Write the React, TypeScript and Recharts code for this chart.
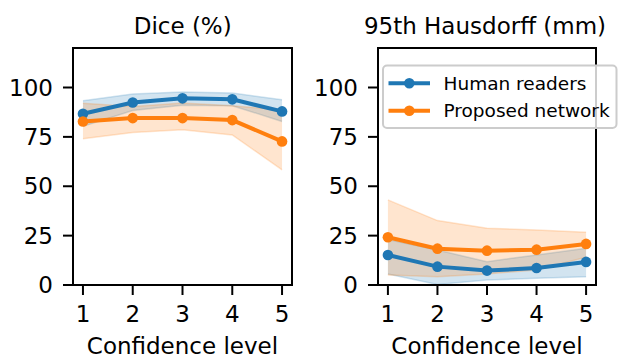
import React from 'react';
import { ComposedChart, Line, Area, XAxis, YAxis, ReferenceArea } from 'recharts';

const levels = [1, 2, 3, 4, 5];
const yTicks = [0, 25, 50, 75, 100];

const diceHumanMean = [86.7, 92.4, 94.5, 94.0, 87.9];
const diceHumanLow = [80.3, 88.3, 91.0, 90.8, 82.8];
const diceHumanHigh = [93.3, 96.7, 97.7, 97.2, 93.8];
const diceNetMean = [82.8, 84.5, 84.5, 83.5, 72.7];
const diceNetLow = [74.0, 77.2, 78.6, 76.0, 58.3];
const diceNetHigh = [92.0, 90.4, 92.1, 90.8, 88.7];

const hdHumanMean = [15.2, 9.3, 7.3, 8.6, 11.7];
const hdHumanLow = [5.6, 0.3, 2.5, 3.4, 4.2];
const hdHumanHigh = [23.0, 17.7, 11.8, 15.2, 18.6];
const hdNetMean = [24.2, 18.4, 17.4, 17.9, 20.8];
const hdNetLow = [5.1, 4.2, 5.6, 7.6, 14.0];
const hdNetHigh = [43.1, 32.6, 28.7, 27.9, 26.7];

const BLUE = '#1f77b4';
const ORANGE = '#ff7f0e';
const FONT = '"DejaVu Sans", sans-serif';

const build = (hm: number[], hl: number[], hh: number[], nm: number[], nl: number[], nh: number[]) =>
  levels.map((x, i) => ({
    x,
    hm: hm[i],
    hb: [hl[i], hh[i]],
    nm: nm[i],
    nb: [nl[i], nh[i]],
  }));

const diceData = build(diceHumanMean, diceHumanLow, diceHumanHigh, diceNetMean, diceNetLow, diceNetHigh);
const hdData = build(hdHumanMean, hdHumanLow, hdHumanHigh, hdNetMean, hdNetLow, hdNetHigh);

function Panel({ data, width, yWidth, right }: { data: any[]; width: number; yWidth: number; right: number }) {
  return (
    <ComposedChart width={width} height={359} data={data} margin={{ top: 48, right, left: 0, bottom: 0 }}>
      <XAxis
        type="number"
        dataKey="x"
        domain={[0.8, 5.2]}
        ticks={levels}
        height={74}
        tickSize={10}
        tickMargin={11}
        axisLine={{ stroke: '#000', strokeWidth: 2 }}
        tickLine={{ stroke: '#000', strokeWidth: 2 }}
        tick={{ fill: '#000', fontSize: 23, fontFamily: FONT }}
        label={{ value: 'Confidence level', position: 'insideBottom', offset: 5, fill: '#000', fontSize: 23, fontFamily: FONT }}
      />
      <YAxis
        type="number"
        domain={[0, 120]}
        ticks={yTicks}
        width={yWidth}
        tickSize={10}
        tickMargin={10}
        axisLine={{ stroke: '#000', strokeWidth: 2 }}
        tickLine={{ stroke: '#000', strokeWidth: 2 }}
        tick={{ fill: '#000', fontSize: 23, fontFamily: FONT }}
      />
      <Area type="linear" dataKey="hb" fill={BLUE} fillOpacity={0.2} stroke={BLUE} strokeOpacity={0.2} strokeWidth={1.5} isAnimationActive={false} dot={false} activeDot={false} />
      <Area type="linear" dataKey="nb" fill={ORANGE} fillOpacity={0.2} stroke={ORANGE} strokeOpacity={0.2} strokeWidth={1.5} isAnimationActive={false} dot={false} activeDot={false} />
      <Line type="linear" dataKey="hm" stroke={BLUE} strokeWidth={4} isAnimationActive={false} dot={{ r: 5.3, fill: BLUE, stroke: BLUE, strokeWidth: 0 }} activeDot={false} />
      <Line type="linear" dataKey="nm" stroke={ORANGE} strokeWidth={4} isAnimationActive={false} dot={{ r: 5.3, fill: ORANGE, stroke: ORANGE, strokeWidth: 0 }} activeDot={false} />
      <ReferenceArea x1={0.8} x2={5.2} y1={0} y2={120} fill="none" fillOpacity={0} stroke="#000" strokeWidth={2} ifOverflow="visible" />
    </ComposedChart>
  );
}

export default function App() {
  return (
    <div style={{ position: 'absolute', left: 0, top: 0, width: 618, height: 359, background: '#fff', fontFamily: FONT }}>
      <div style={{ position: 'absolute', left: 0, top: 0 }}>
        <Panel data={diceData} width={310} yWidth={73} right={18} />
      </div>
      <div style={{ position: 'absolute', left: 310, top: 0 }}>
        <Panel data={hdData} width={308} yWidth={68} right={22} />
      </div>
      <svg width={618} height={359} style={{ position: 'absolute', left: 0, top: 0, pointerEvents: 'none' }}>
        <text x={182.7} y={34} textAnchor="middle" fontSize={23} fontFamily={FONT} fill="#000">Dice (%)</text>
        <text x={485} y={34} textAnchor="middle" fontSize={23} fontFamily={FONT} fill="#000">95th Hausdorff (mm)</text>
        <rect x={383} y={65.5} width={233.5} height={62.5} rx={4} fill="#fff" fillOpacity={0.8} stroke="#cccccc" strokeWidth={2} />
        <line x1={388.5} y1={83.3} x2={430} y2={83.3} stroke={BLUE} strokeWidth={4} />
        <circle cx={409.3} cy={83.3} r={5.3} fill={BLUE} />
        <text x={443.5} y={90} fontSize={18.5} fontFamily={FONT} fill="#000">Human readers</text>
        <line x1={388.5} y1={110.7} x2={430} y2={110.7} stroke={ORANGE} strokeWidth={4} />
        <circle cx={409.3} cy={110.7} r={5.3} fill={ORANGE} />
        <text x={443.5} y={117.2} fontSize={18.5} fontFamily={FONT} fill="#000">Proposed network</text>
      </svg>
    </div>
  );
}
